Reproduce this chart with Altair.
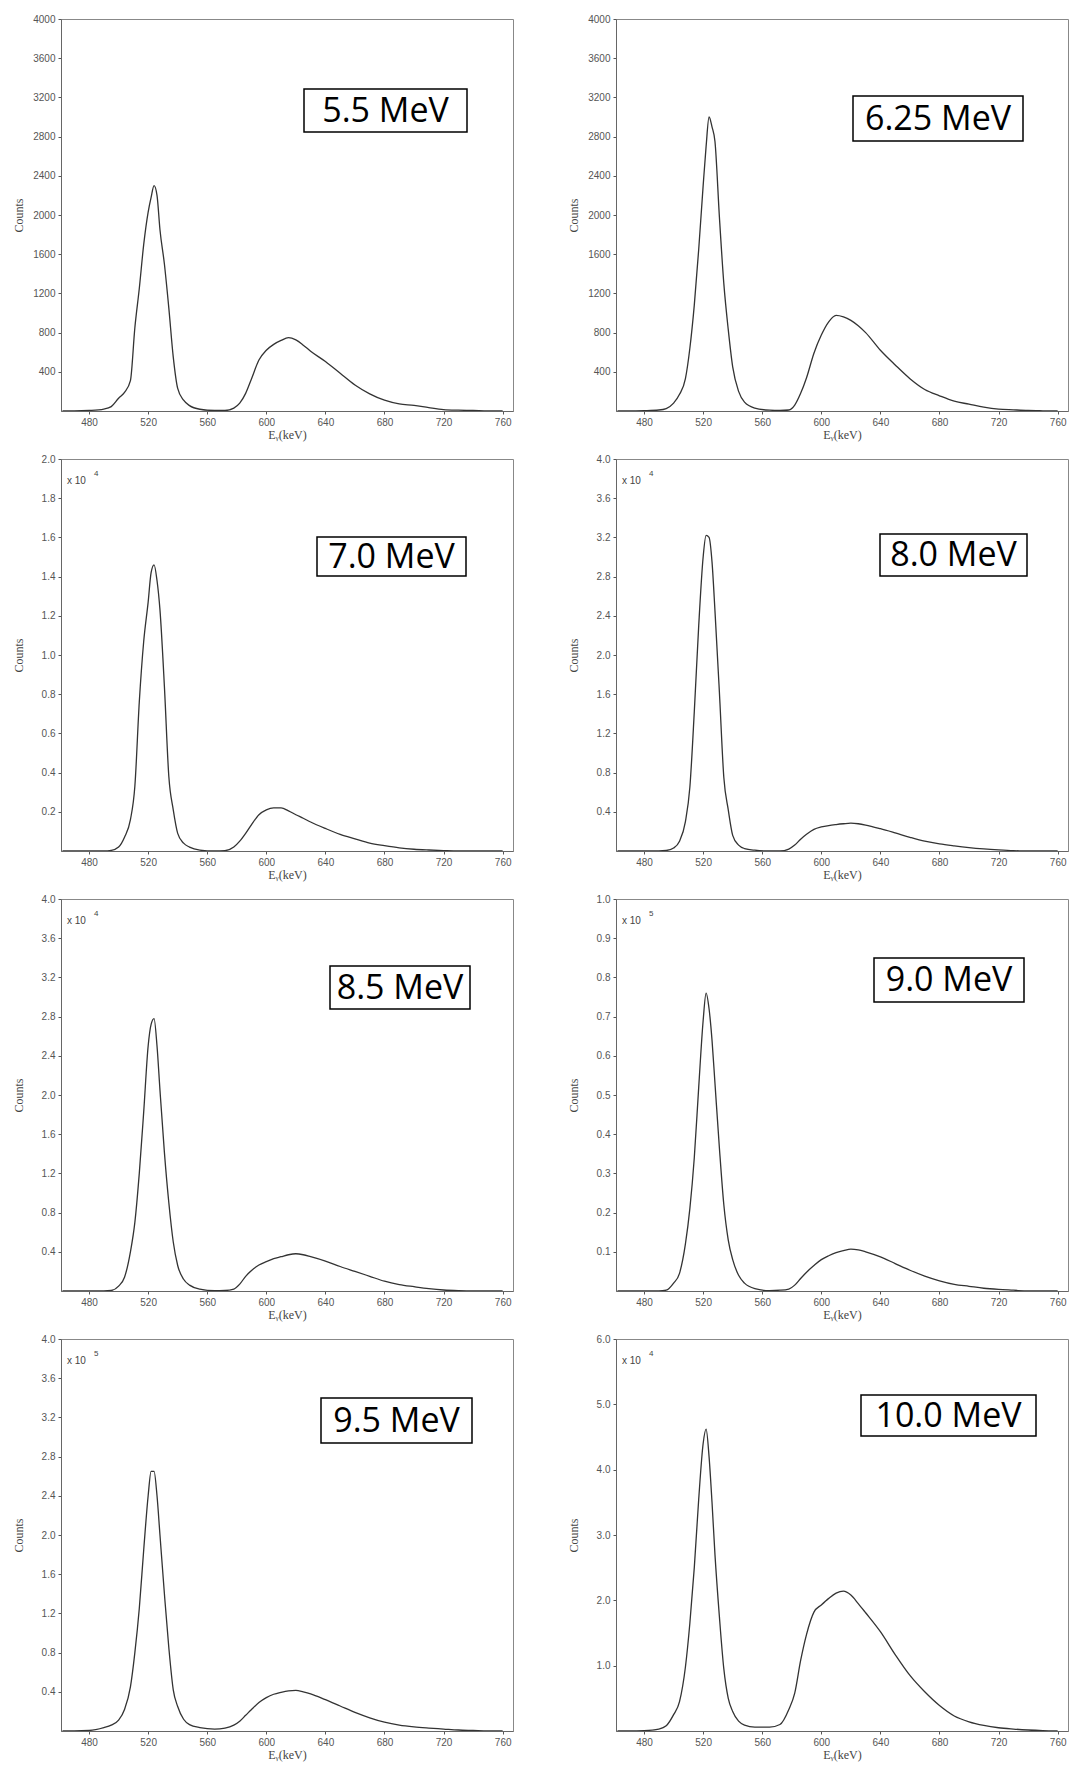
import altair as alt
import pandas as pd

energy_kev = [462, 470, 480, 490, 495, 500, 504, 508, 511, 514,
              517, 520, 522, 524, 526, 528, 531, 534, 537, 540,
              544, 548, 555, 565, 572, 578, 582, 586, 590, 595,
              600, 605, 610, 615, 620, 625, 630, 640, 650, 660,
              670, 680, 690, 700, 710, 720, 730, 740, 750, 760]

# Counts (in the units shown on each panel's y axis)
counts_5_5 = [0, 0, 5, 20, 45, 130, 190, 310, 850, 1250,
              1700, 2030, 2180, 2300, 2200, 1850, 1500, 1050, 550, 230,
              110, 55, 18, 5, 5, 30, 80, 180, 330, 520,
              620, 680, 720, 748, 725, 672, 610, 505, 385, 265,
              175, 110, 72, 58, 35, 15, 8, 5, 0, 0]
counts_6_25 = [0, 0, 3, 10, 25, 80, 170, 330, 640, 1080,
               1650, 2300, 2700, 3000, 2900, 2750, 1980, 1300, 830, 450,
               200, 90, 30, 8, 5, 10, 60, 180, 340, 590,
               775, 910, 975, 960, 925, 870, 800, 620, 470, 330,
               220, 155, 100, 70, 40, 20, 12, 5, 2, 0]
counts_7_0 = [0, 0, 0, 0, 0.003, 0.02, 0.07, 0.16, 0.33, 0.76,
              1.07, 1.27, 1.42, 1.46, 1.38, 1.23, 0.84, 0.38, 0.21, 0.09,
              0.04, 0.02, 0.005, 0, 0.002, 0.02, 0.05, 0.09, 0.135, 0.185,
              0.21, 0.22, 0.22, 0.205, 0.185, 0.167, 0.148, 0.115, 0.085, 0.062,
              0.04, 0.027, 0.016, 0.009, 0.005, 0.002, 0, 0, 0, 0]
counts_8_0 = [0, 0, 0, 0, 0.005, 0.03, 0.1, 0.3, 0.65, 1.42,
              2.3, 3.0, 3.22, 3.2, 2.95, 2.45, 1.62, 0.75, 0.42, 0.16,
              0.06, 0.025, 0.008, 0, 0, 0.02, 0.06, 0.12, 0.17, 0.22,
              0.245, 0.26, 0.27, 0.278, 0.284, 0.278, 0.265, 0.228, 0.185, 0.14,
              0.1, 0.072, 0.052, 0.035, 0.022, 0.012, 0.004, 0, 0, 0]
counts_8_5 = [0, 0, 0, 0, 0.005, 0.05, 0.14, 0.4, 0.7, 1.2,
              1.83, 2.5, 2.72, 2.78, 2.5, 2.05, 1.415, 0.9, 0.5, 0.26,
              0.12, 0.06, 0.02, 0.003, 0.005, 0.02, 0.07, 0.15, 0.21, 0.265,
              0.30, 0.33, 0.35, 0.37, 0.38, 0.37, 0.35, 0.305, 0.25, 0.20,
              0.15, 0.10, 0.066, 0.044, 0.024, 0.01, 0.003, 0, 0, 0]
counts_9_0 = [0, 0, 0, 0, 0.002, 0.02, 0.045, 0.12, 0.21, 0.34,
              0.52, 0.69, 0.76, 0.72, 0.64, 0.53, 0.365, 0.22, 0.13, 0.08,
              0.04, 0.02, 0.006, 0.001, 0.002, 0.005, 0.015, 0.032, 0.048, 0.065,
              0.08, 0.09, 0.098, 0.103, 0.107, 0.105, 0.1, 0.087, 0.07, 0.053,
              0.038, 0.026, 0.017, 0.012, 0.007, 0.004, 0.002, 0, 0, 0]
counts_9_5 = [0, 0, 0.005, 0.035, 0.06, 0.11, 0.22, 0.45, 0.8, 1.25,
              1.85, 2.4, 2.65, 2.65, 2.4, 2.0, 1.4, 0.85, 0.42, 0.25,
              0.12, 0.065, 0.035, 0.02, 0.03, 0.06, 0.1, 0.16, 0.22, 0.29,
              0.34, 0.375, 0.395, 0.41, 0.415, 0.4, 0.38, 0.32, 0.255, 0.19,
              0.135, 0.09, 0.06, 0.042, 0.03, 0.02, 0.01, 0.005, 0, 0]
counts_10_0 = [0, 0, 0.005, 0.03, 0.08, 0.25, 0.45, 0.98, 1.65, 2.5,
               3.55, 4.4, 4.62, 4.2, 3.5, 2.7, 1.75, 0.95, 0.5, 0.3,
               0.15, 0.09, 0.06, 0.06, 0.1, 0.33, 0.58, 1.08, 1.48, 1.82,
               1.93, 2.03, 2.11, 2.14, 2.08, 1.95, 1.81, 1.52, 1.17, 0.85,
               0.6, 0.39, 0.23, 0.14, 0.085, 0.05, 0.03, 0.015, 0.005, 0]

panel_labels = ["5.5 MeV", "6.25 MeV", "7.0 MeV", "8.0 MeV",
                "8.5 MeV", "9.0 MeV", "9.5 MeV", "10.0 MeV"]
panel_counts = [counts_5_5, counts_6_25, counts_7_0, counts_8_0,
                counts_8_5, counts_9_0, counts_9_5, counts_10_0]
y_max = [4000, 4000, 2.0, 4.0, 4.0, 1.0, 4.0, 6.0]
y_ticks = [
    [400, 800, 1200, 1600, 2000, 2400, 2800, 3200, 3600, 4000],
    [400, 800, 1200, 1600, 2000, 2400, 2800, 3200, 3600, 4000],
    [0.2, 0.4, 0.6, 0.8, 1.0, 1.2, 1.4, 1.6, 1.8, 2.0],
    [0.4, 0.8, 1.2, 1.6, 2.0, 2.4, 2.8, 3.2, 3.6, 4.0],
    [0.4, 0.8, 1.2, 1.6, 2.0, 2.4, 2.8, 3.2, 3.6, 4.0],
    [0.1, 0.2, 0.3, 0.4, 0.5, 0.6, 0.7, 0.8, 0.9, 1.0],
    [0.4, 0.8, 1.2, 1.6, 2.0, 2.4, 2.8, 3.2, 3.6, 4.0],
    [1.0, 2.0, 3.0, 4.0, 5.0, 6.0],
]
y_formats = ["d", "d", ".1f", ".1f", ".1f", ".1f", ".1f", ".1f"]
exponents = ["", "", "4", "4", "4", "5", "5", "4"]
x_ticks = [480, 520, 560, 600, 640, 680, 720, 760]

# Annotation box placement (pixels inside each plot area): x0, x1, y0, y1
box_px = [
    (243, 406, 70, 113),
    (237, 407, 77, 122),
    (256, 405, 78, 117),
    (264, 411, 75, 117),
    (269, 409, 67, 110),
    (258, 408, 59, 103),
    (260, 411, 59, 104),
    (245, 420, 56, 97),
]

W, H = 452, 392
LINE = "#333333"


def panel(i):
    df = pd.DataFrame({"E": energy_kev, "C": panel_counts[i]})
    base = alt.Chart(df)
    line = base.mark_line(color=LINE, strokeWidth=1.3, interpolate="monotone", clip=True).encode(
        x=alt.X("E:Q",
                scale=alt.Scale(domain=[461, 767], nice=False, zero=False),
                axis=alt.Axis(values=x_ticks, title="Eᵧ(keV)", format="d")),
        y=alt.Y("C:Q",
                scale=alt.Scale(domain=[0, y_max[i]], nice=False),
                axis=alt.Axis(values=y_ticks[i], format=y_formats[i], title="Counts",
                              titleX=-43, titleBaseline="middle")),
    )
    x0, x1, y0, y1 = box_px[i]
    lab = pd.DataFrame({"t": [panel_labels[i]]})
    box = alt.Chart(lab).mark_rect(fill="white", stroke="black", strokeWidth=1.5).encode(
        x=alt.value(x0), x2=alt.value(x1), y=alt.value(y0), y2=alt.value(y1))
    txt = alt.Chart(lab).mark_text(font="Open Sans", fontSize=34, color="black",
                                   align="center", baseline="middle").encode(
        x=alt.value((x0 + x1) / 2), y=alt.value((y0 + y1) / 2 + 1), text="t:N")
    layers = [line, box, txt]
    if exponents[i]:
        e = pd.DataFrame({"a": ["x 10"], "b": [exponents[i]]})
        t1 = alt.Chart(e).mark_text(font="Liberation Sans", fontSize=10, color="#444",
                                    align="left", baseline="middle").encode(
            x=alt.value(6), y=alt.value(22), text="a:N")
        t2 = alt.Chart(e).mark_text(font="Liberation Sans", fontSize=8, color="#444",
                                    align="left", baseline="middle").encode(
            x=alt.value(33), y=alt.value(15), text="b:N")
        layers += [t1, t2]
    return alt.layer(*layers).properties(width=W, height=H)


panels = [panel(i) for i in range(8)]
rows = [alt.hconcat(panels[2 * r], panels[2 * r + 1], spacing=52) for r in range(4)]
chart = alt.vconcat(*rows, spacing=12).properties(
    padding={"left": 3, "top": 5, "right": 5, "bottom": 2}
).configure_view(
    stroke="#888", strokeWidth=1
).configure_axis(
    grid=False, labelFont="Liberation Sans", labelFontSize=10, labelColor="#555",
    tickColor="#555", tickSize=3, labelPadding=3, domainColor="#666",
    titleFont="Liberation Serif", titleFontSize=12, titleColor="#444",
    titleFontWeight="normal"
).configure_axisX(
    titlePadding=2
)

chart.save("out.html", embed_options={"renderer": "svg", "actions": False})
